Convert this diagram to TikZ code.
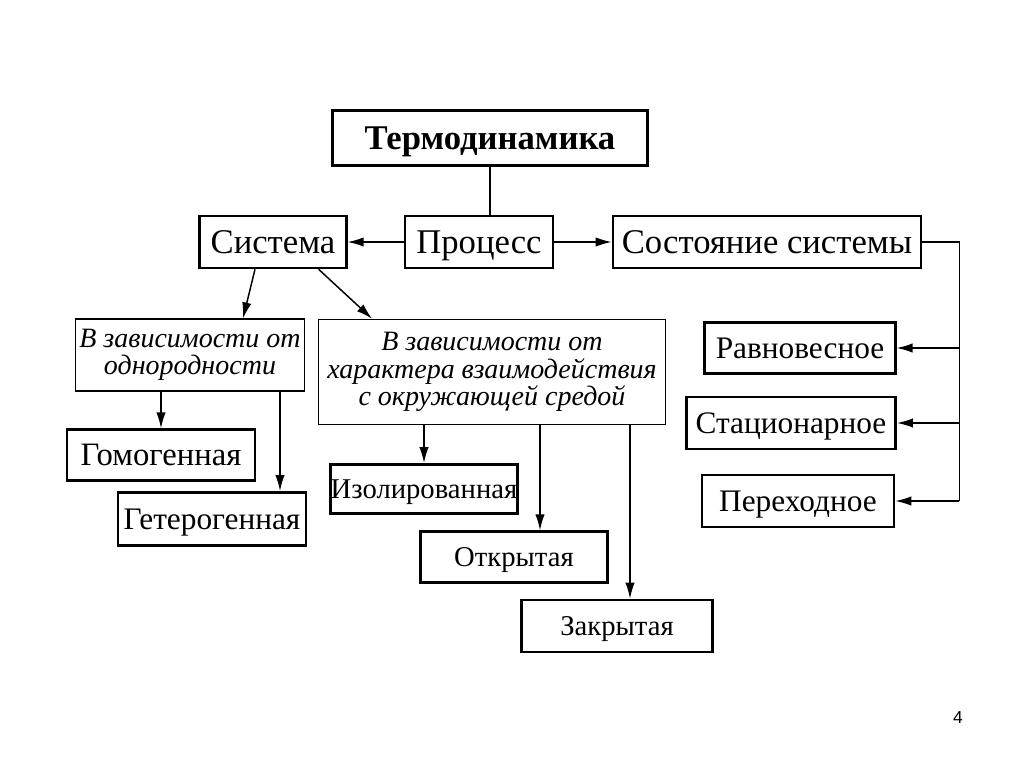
\documentclass[tikz,border=0pt]{standalone}
\usepackage{fontspec}
\setmainfont{Liberation Serif}
\newfontfamily\numfont{Liberation Sans}
\usetikzlibrary{calc,arrows.meta}

\begin{document}
\begin{tikzpicture}[
x=0.75pt, y=-0.75pt,
box/.style={
	draw, line width=1.9pt, rectangle,
	inner sep=0pt, text=black,
	minimum height=39pt, text depth=0pt,
	font=\fontsize{26}{28}\selectfont
},
smallbox/.style={box, font=\fontsize{23.5}{26}\selectfont},
lowbox/.style={box, font=\fontsize{21.5}{24}\selectfont},
note/.style={
	draw, line width=0.9pt, rectangle,
	inner sep=0pt, align=center,
	font=\itshape\fontsize{21}{20.5}\selectfont
},
arr/.style={-{Latex[length=12pt,width=7pt]}, line width=1.1pt},
line width=1.1pt
]
\useasboundingbox (0,0) rectangle (1024,767);
% top row
\node[box, minimum width=236pt, minimum height=41pt, font=\bfseries\fontsize{26}{28}\selectfont]
	(term) at (490,138) {Термодинамика};
\node[box, minimum width=110pt] (sys) at (273,242) {Система};
\node[box, minimum width=111pt] (proc) at (479,242) {Процесс};
\node[box, minimum width=231pt] (state) at (767,242) {Состояние системы};
% states
\node[smallbox, minimum width=143pt, minimum height=38pt] (ravn) at (800,348) {Равновесное};
\node[smallbox, minimum width=157pt] (stac) at (791,423) {Стационарное};
\node[smallbox, minimum width=144pt] (perekh) at (798,501) {Переходное};
% kinds of systems
\node[note, minimum width=172pt, minimum height=54pt] (odn) at (190,355)
	{В зависимости от\\однородности};
\node[note, minimum width=260pt, minimum height=79pt] (har) at (492,372)
	{В зависимости от\\характера взаимодействия\\с окружающей средой};
\node[smallbox, minimum width=141pt, minimum height=38pt, font=\fontsize{24.5}{26}\selectfont]
	(homo) at (161,455) {Гомогенная};
\node[smallbox, minimum width=141pt, minimum height=40pt] (hetero) at (212,519) {Гетерогенная};
\node[lowbox, minimum width=140pt, minimum height=37pt] (izol) at (424,489) {Изолированная};
\node[lowbox, minimum width=140pt, minimum height=38pt] (otkr) at (514,557) {Открытая};
\node[lowbox, minimum width=143pt] (zakr) at (617,626) {Закрытая};
\node[font=\numfont\fontsize{13}{15}\selectfont] (page) at (958,718) {4};

\draw (term.south) -- (term.south |- proc.north);
\draw[arr] (proc) -- (sys);
\draw[arr] (proc) -- (state);
\coordinate (bus) at ($(state.east)+(37,0)$);
\draw (state.east) -- (bus) -- (bus |- perekh);
\foreach \s in {ravn,stac,perekh}
{
	\draw[arr] (bus |- \s) -- (\s.east);
}
\draw[arr] ($(sys.south)+(-18,0)$) -- ($(odn.north)+(53,0)$);
\draw[arr] ($(sys.south east)+(-29,0)$) -- ($(har.north west)+(54,0)$);
\draw[arr] (homo.north |- odn.south) -- (homo.north);
\coordinate (hetin) at ($(hetero.north)+(68,0)$);
\draw[arr] (hetin |- odn.south) -- (hetin);
\draw[arr] (izol.north |- har.south) -- (izol.north);
\coordinate (otkin) at ($(otkr.north)+(26,0)$);
\draw[arr] (otkin |- har.south) -- (otkin);
\coordinate (zakin) at ($(zakr.north)+(13,0)$);
\draw[arr] (zakin |- har.south) -- (zakin);
\end{tikzpicture}
\end{document}
